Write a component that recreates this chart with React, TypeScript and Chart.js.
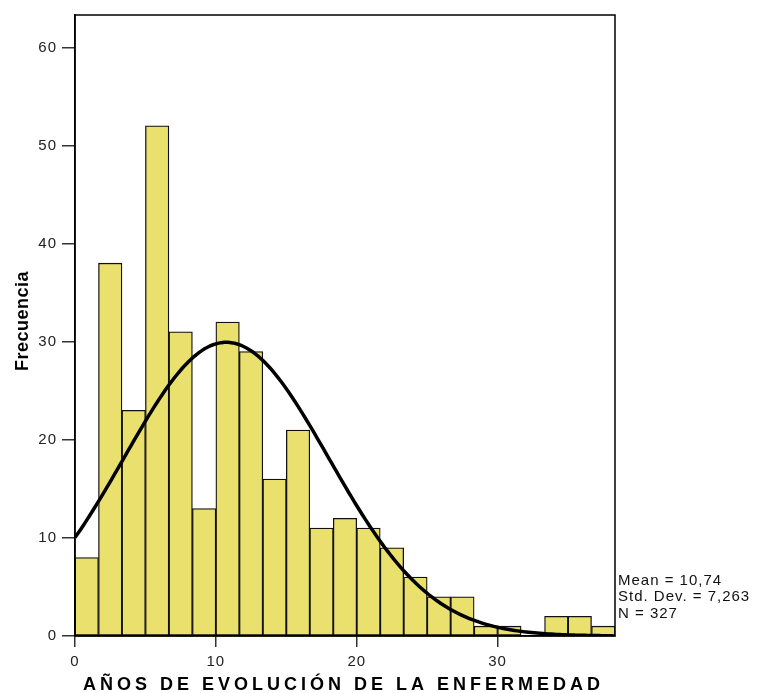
import { useEffect, useRef } from "react";
import { Chart, registerables } from "chart.js";

Chart.register(...registerables);

// Histogram of disease duration (years), bins of 5/3 year
const BIN_WIDTH = 5 / 3;
const COUNTS = [8, 38, 23, 52, 31, 13, 32, 29, 16, 21, 11, 12, 11, 9, 6, 4, 4, 1, 1, 0, 2, 2, 1];

// Summary statistics shown beside the plot; the normal curve uses them
const MEAN = 10.74;
const STD_DEV = 7.263;
const N = 327;
const STATS_LINES = ["Mean = 10,74", "Std. Dev. = 7,263", "N = 327"];

const X_MIN = 0;
const X_MAX = COUNTS.length * BIN_WIDTH;
const Y_MAX = 63.3;
const X_TICKS = [0, 10, 20, 30];
const Y_TICKS = [0, 10, 20, 30, 40, 50, 60];

const X_TITLE = "AÑOS DE EVOLUCIÓN DE LA ENFERMEDAD";
const Y_TITLE = "Frecuencia";

const BAR_COLOR = "#EAE06E";
const FONT = "'Liberation Sans', Arial, sans-serif";

// Expected frequency per bin under the fitted normal distribution
function normalFreq(x: number): number {
  const z = (x - MEAN) / STD_DEV;
  return (N * BIN_WIDTH * Math.exp(-0.5 * z * z)) / (STD_DEV * Math.sqrt(2 * Math.PI));
}

const CURVE_STEP = 0.2;
const curvePoints: { x: number; y: number }[] = [];
for (let x = X_MIN; x <= X_MAX + 1e-9; x += CURVE_STEP) {
  curvePoints.push({ x, y: normalFreq(x) });
}

const barPoints = COUNTS.map((c, i) => ({ x: (i + 0.5) * BIN_WIDTH, y: c }));

const decorPlugin = {
  id: "decor",
  beforeDraw(chart: any) {
    chart.ctx.letterSpacing = "1px";
  },
  afterDatasetsDraw(chart: any) {
    const { ctx, chartArea: a } = chart;
    ctx.save();
    ctx.strokeStyle = "#000";
    ctx.lineWidth = 1.5;
    ctx.strokeRect(a.left, a.top, a.right - a.left, a.bottom - a.top);
    ctx.restore();
  },
  afterDraw(chart: any) {
    const { ctx, chartArea: a } = chart;
    ctx.save();
    ctx.fillStyle = "#000";

    // x axis title
    ctx.font = `bold 18px ${FONT}`;
    ctx.letterSpacing = "4px";
    ctx.textAlign = "left";
    ctx.textBaseline = "alphabetic";
    ctx.fillText(X_TITLE, 83, 689.5);

    // y axis title
    ctx.save();
    ctx.translate(28, 321);
    ctx.rotate(-Math.PI / 2);
    ctx.font = `bold 18px ${FONT}`;
    ctx.letterSpacing = "0.5px";
    ctx.textAlign = "center";
    ctx.fillText(Y_TITLE, 0, 0);
    ctx.restore();

    // statistics block
    ctx.font = `15px ${FONT}`;
    ctx.letterSpacing = "1px";
    ctx.fillStyle = "#111";
    ctx.textAlign = "left";
    const baselines = [585, 601, 617.5];
    STATS_LINES.forEach((t, i) => ctx.fillText(t, a.right + 3, baselines[i]));
    ctx.restore();
    ctx.letterSpacing = "0px";
  },
};

export default function App() {
  const canvasRef = useRef<HTMLCanvasElement | null>(null);

  useEffect(() => {
    const canvas = canvasRef.current;
    if (!canvas) return;
    const chart = new Chart(canvas, {
      type: "bar",
      data: {
        datasets: [
          {
            type: "line",
            data: curvePoints,
            borderColor: "#000",
            borderWidth: 3.5,
            pointRadius: 0,
            tension: 0,
            fill: false,
            order: 0,
          } as any,
          {
            type: "bar",
            data: barPoints,
            backgroundColor: BAR_COLOR,
            borderColor: "#111",
            borderWidth: 1.3,
            borderSkipped: false,
            barPercentage: 1,
            categoryPercentage: 1,
            order: 1,
          } as any,
        ],
      },
      plugins: [decorPlugin],
      options: {
        responsive: false,
        animation: false,
        events: [],
        layout: { padding: { left: 0, top: 15, right: 142, bottom: 0 } },
        plugins: {
          legend: { display: false },
          tooltip: { enabled: false },
          title: { display: false },
        },
        scales: {
          x: {
            type: "linear",
            min: X_MIN,
            max: X_MAX,
            offset: false,
            afterBuildTicks: (scale: any) => {
              scale.ticks = X_TICKS.map((v) => ({ value: v }));
            },
            afterFit: (scale: any) => {
              scale.height = 57;
            },
            grid: {
              display: true,
              offset: false,
              drawOnChartArea: false,
              drawTicks: true,
              tickLength: 11,
              color: "#333",
              lineWidth: 1.5,
            },
            border: { display: true, color: "#000", width: 1.5 },
            ticks: {
              padding: 6,
              maxRotation: 0,
              autoSkip: false,
              color: "#222",
              font: { family: FONT, size: 15 },
            },
          },
          y: {
            type: "linear",
            min: 0,
            max: Y_MAX,
            afterBuildTicks: (scale: any) => {
              scale.ticks = Y_TICKS.map((v) => ({ value: v }));
            },
            afterFit: (scale: any) => {
              scale.width = 75;
            },
            grid: {
              display: true,
              drawOnChartArea: false,
              drawTicks: true,
              tickLength: 13,
              color: "#333",
              lineWidth: 1.5,
            },
            border: { display: true, color: "#000", width: 1.5 },
            ticks: {
              padding: 5,
              autoSkip: false,
              color: "#222",
              font: { family: FONT, size: 15 },
            },
          },
        },
      } as any,
    });
    return () => chart.destroy();
  }, []);

  return (
    <div style={{ position: "absolute", left: 0, top: 0, width: 757, height: 693, background: "#fff" }}>
      <canvas ref={canvasRef} width={757} height={693} style={{ display: "block" }} />
    </div>
  );
}
